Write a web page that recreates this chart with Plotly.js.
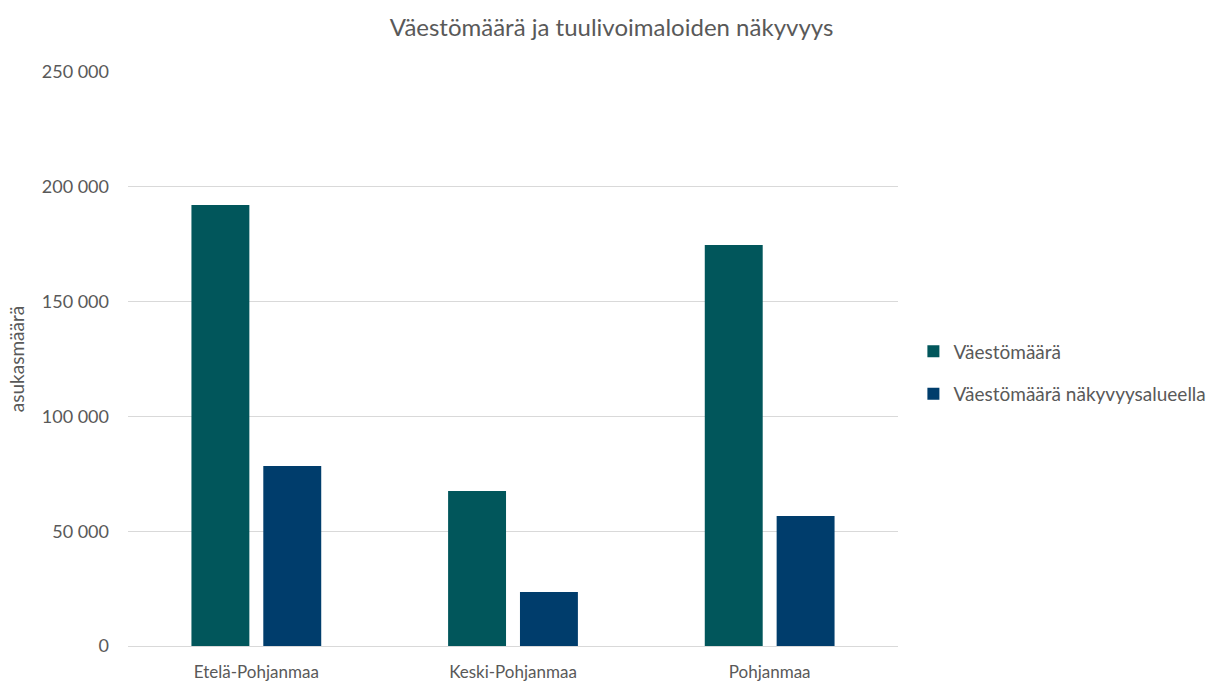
<!DOCTYPE html>
<html>
<head>
<meta charset="utf-8">
<script src="https://cdn.plot.ly/plotly-3.0.1.min.js"></script>
<style>html,body{margin:0;padding:0;background:#fff;}#chart{width:1223px;height:684px;}</style>
</head>
<body>
<div id="chart"></div>
<script>
const categories = ["Etelä-Pohjanmaa", "Keski-Pohjanmaa", "Pohjanmaa"];
const seriesNames = ["Väestömäärä", "Väestömäärä näkyvyysalueella"];
const population = [192100, 67500, 174700];
const visiblePopulation = [78400, 23500, 56600];
const tickValues = [0, 50000, 100000, 150000, 200000, 250000];
const tickLabels = ["0", "50 000", "100 000", "150 000", "200 000", "250 000"];

const FONT = "Lato, 'Open Sans', sans-serif";
const GREY = "#595959";

const traces = [
  {type: "bar", name: seriesNames[0], x: categories, y: population,
   marker: {color: "#01565b"}, legendgroup: "a", hoverinfo: "y"},
  {type: "bar", name: seriesNames[1], x: categories, y: visiblePopulation,
   marker: {color: "#003d6c"}, legendgroup: "b", hoverinfo: "y"}
];

const layout = {
  width: 1223, height: 684,
  margin: {l: 128, r: 323, t: 72, b: 38},
  paper_bgcolor: "#fff", plot_bgcolor: "#fff",
  font: {family: FONT, color: GREY, size: 16},
  title: {text: "Väestömäärä ja tuulivoimaloiden näkyvyys", font: {size: 24, color: GREY, family: FONT},
          x: 0.5, xref: "container", xanchor: "center", y: 0.96, yanchor: "middle"},
  barmode: "group", bargap: 0.44, bargroupgap: 0.194,
  xaxis: {showgrid: false, showline: true, linecolor: "#d9d9d9", linewidth: 1,
          ticks: "", ticklabelstandoff: 11, tickfont: {size: 17, color: GREY}, fixedrange: true},
  yaxis: {range: [0, 250000], tickvals: tickValues, ticktext: tickLabels,
          showgrid: true, gridcolor: "#d9d9d9", gridwidth: 1, zeroline: false,
          showline: false, ticks: "", ticklen: 0, ticklabelstandoff: 18,
          tickfont: {size: 18, color: GREY},
          title: {text: "asukasmäärä", font: {size: 19, color: GREY}, standoff: 12},
          fixedrange: true},
  showlegend: true,
  legend: {x: 1.02, xanchor: "left", y: 0.476, yanchor: "middle",
           traceorder: "grouped", tracegroupgap: 15,
           font: {size: 19, color: GREY}, itemwidth: 30, bgcolor: "rgba(0,0,0,0)"}
};

Plotly.newPlot("chart", traces, layout, {displayModeBar: false, staticPlot: true});
</script>
</body>
</html>
